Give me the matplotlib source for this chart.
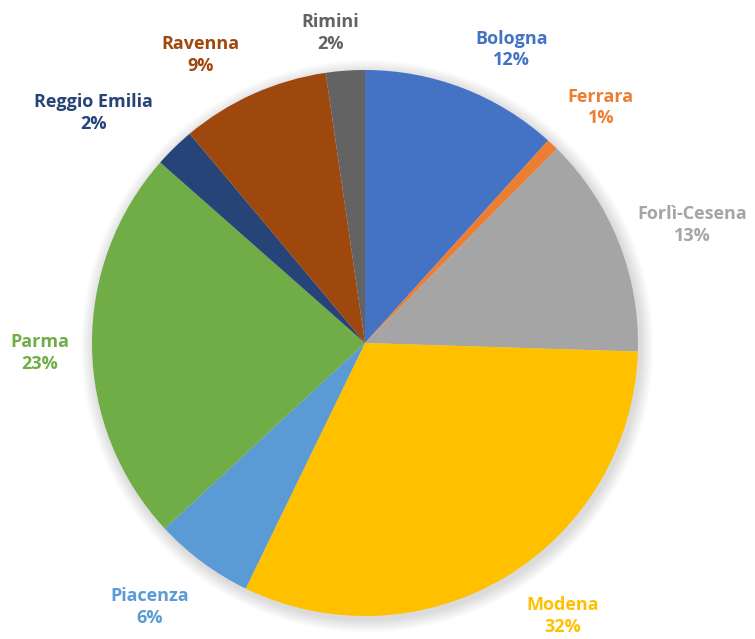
import matplotlib
matplotlib.use("Agg")
import matplotlib.pyplot as plt
from matplotlib.patches import Circle

labels = ["Bologna", "Ferrara", "Forlì-Cesena", "Modena", "Piacenza", "Parma",
          "Reggio Emilia", "Ravenna", "Rimini"]
values = [11.7, 0.7, 13.1, 31.7, 5.9, 23.4, 2.4, 8.8, 2.3]
colors = ["#4472C4", "#ED7D31", "#A5A5A5", "#FFC000", "#5B9BD5", "#70AD47",
          "#264478", "#9E480E", "#636363"]
# label anchor positions in units of pie radius
label_pos = [(0.538, 1.075), (0.864, 0.863), (1.198, 0.432), (0.725, -1.0),
             (-0.788, -0.967), (-1.190, -0.037), (-0.996, 0.842), (-0.604, 1.055),
             (-0.128, 1.136)]

fig = plt.figure(figsize=(7.55, 6.39), dpi=100)
ax = fig.add_axes([0, 0, 1, 1])
ax.set_xlim(-365 / 273, (755 - 365) / 273)
ax.set_ylim(-296 / 273, 343 / 273)
ax.set_aspect("equal")
ax.axis("off")

# soft shadow
for i in range(12):
    ax.add_patch(Circle((0.008, -0.012), 1.0 + 0.004 * (12 - i), color="black",
                        alpha=0.012, zorder=0, lw=0))

total = sum(values)
wedges, _ = ax.pie(values, colors=colors, startangle=90, counterclock=False,
                   radius=1.0, center=(0, 0), wedgeprops=dict(linewidth=0),
                   frame=True)
ax.set_xlim(-365 / 273, (755 - 365) / 273)
ax.set_ylim(-296 / 273, 343 / 273)
ax.axis("off")

for lab, v, c, (x, y) in zip(labels, values, colors, label_pos):
    ax.text(x, y, f"{lab}\n{round(v / total * 100):d}%", color=c, ha="center",
            va="center", fontsize=13, fontweight="bold", family="Open Sans",
            linespacing=1.25)

fig.savefig("out.png", dpi=100)
